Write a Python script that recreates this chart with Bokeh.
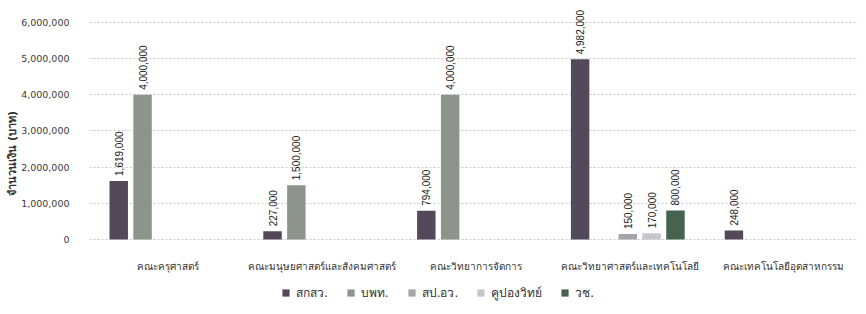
from bokeh.plotting import figure
from bokeh.models import (ColumnDataSource, FactorRange, Range1d, LabelSet, Legend, LegendItem,
                          FixedTicker, NumeralTickFormatter, Title)
from bokeh.core.properties import value
from bokeh.transform import dodge
from bokeh.embed import file_html
from bokeh.resources import INLINE

categories = ["คณะครุศาสตร์", "คณะมนุษยศาสตร์และสังคมศาสตร์", "คณะวิทยาการจัดการ",
              "คณะวิทยาศาสตร์และเทคโนโลยี", "คณะเทคโนโลยีอุตสาหกรรม"]
series_names = ["สกสว.", "บพท.", "สป.อว.", "คูปองวิทย์", "วช."]
s_tsri = [1619000, 227000, 794000, 4982000, 248000]
s_pmua = [4000000, 1500000, 4000000, 0, 0]
s_ops = [0, 0, 0, 150000, 0]
s_coupon = [0, 0, 0, 170000, 0]
s_nrct = [0, 0, 0, 800000, 0]
y_ticks = [0, 1000000, 2000000, 3000000, 4000000, 5000000, 6000000]
y_title = "จำนวนเงิน (บาท)"

series_values = [s_tsri, s_pmua, s_ops, s_coupon, s_nrct]
colors = ["#54495a", "#8d948c", "#a4a4aa", "#c6c6ca", "#46634f"]
offsets = [-0.31, -0.155, 0.0, 0.155, 0.31]

FONT = "DejaVu Sans"
NUMFONT = "Liberation Sans"

p = figure(width=858, height=306, x_range=FactorRange(*categories, range_padding=0),
           y_range=Range1d(-1852500, 6608000), output_backend="svg", toolbar_location=None,
           min_border_left=89, min_border_right=0, min_border_top=0, min_border_bottom=0)
p.outline_line_color = None
p.xgrid.grid_line_color = None
p.ygrid.grid_line_color = "#c8c8c8"
p.ygrid.grid_line_dash = "2 2"
p.ygrid.grid_line_width = 1
p.xaxis.visible = False

p.yaxis.ticker = FixedTicker(ticks=y_ticks)
p.yaxis.formatter = NumeralTickFormatter(format="0,0")
p.yaxis.axis_line_color = None
p.yaxis.major_tick_line_color = None
p.yaxis.minor_tick_line_color = None
p.yaxis.major_label_standoff = 14
p.yaxis.major_label_text_font = FONT
p.yaxis.major_label_text_font_size = "9.5px"
p.yaxis.major_label_text_color = "#3a3a3a"

p.add_layout(Title(text=y_title, align="center", offset=40, text_font=FONT,
                   text_font_size="11px", text_font_style="bold", text_color="#333333",
                   standoff=0), "left")

# category labels under the baseline
cat_src = ColumnDataSource(dict(cat=categories, y=[0] * len(categories), label=categories))
p.add_layout(LabelSet(x="cat", y="y", text="label", source=cat_src, y_offset=-27, x_offset=2,
                      text_align="center", text_baseline="middle",
                      text_font=value(FONT), text_font_size="10px", text_color="#333333"))

items = []
for name, vals, col, off in zip(series_names, series_values, colors, offsets):
    xs = [c for c, v in zip(categories, vals) if v > 0]
    ys = [v for v in vals if v > 0]
    labels = ["{:,}".format(v) for v in ys]
    src = ColumnDataSource(dict(cat=xs, top=ys, label=labels))
    r = p.vbar(x=dodge("cat", off, range=p.x_range), top="top", width=0.12, source=src,
               fill_color=col, line_color=None)
    items.append(LegendItem(label=name, renderers=[r]))
    p.add_layout(LabelSet(x=dodge("cat", off, range=p.x_range), y="top", text="label",
                          source=src, angle=90, angle_units="deg", x_offset=0, y_offset=5,
                          text_align="left", text_baseline="middle",
                          text_font=value(NUMFONT), text_font_size="10px", text_color="#222222"))

legend = Legend(items=items, orientation="horizontal", location=(192, 4),
                label_text_font=FONT, label_text_font_size="12px", label_text_color="#333333",
                glyph_width=9, glyph_height=9, spacing=18, label_standoff=6,
                border_line_color=None, background_fill_alpha=0, padding=0, margin=0)
p.add_layout(legend)

open("out.html", "w").write(file_html(p, INLINE))
